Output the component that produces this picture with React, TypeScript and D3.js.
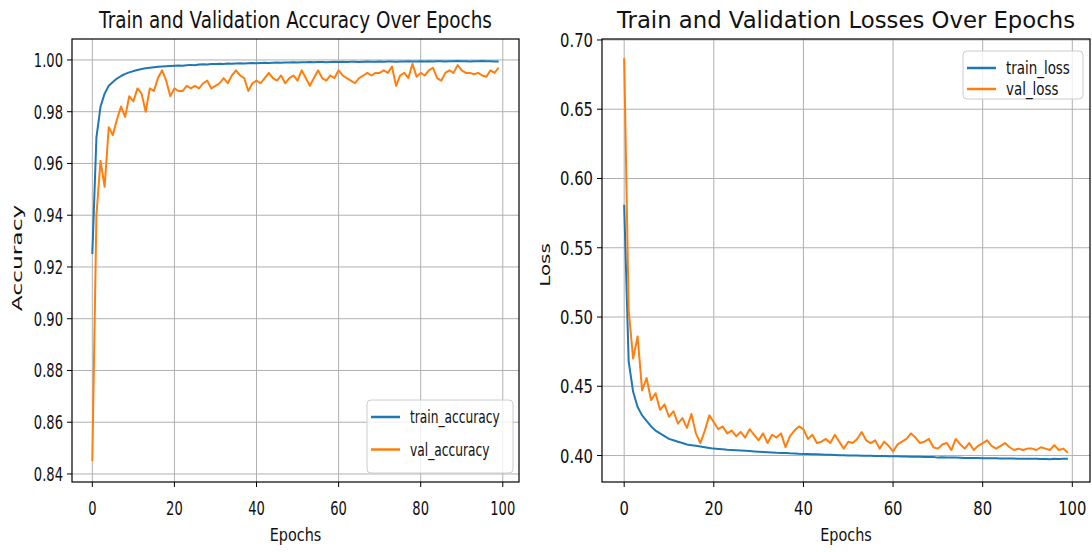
import * as d3 from "d3";

const epochs = d3.range(100);

const trainAccuracy = [
  0.925, 0.970, 0.982, 0.987, 0.990, 0.9915, 0.9928, 0.9938, 0.9946, 0.9952,
  0.9957, 0.9961, 0.9965, 0.9968, 0.9970, 0.9972, 0.9974, 0.9975, 0.9976, 0.9977,
  0.9978, 0.9979, 0.9978, 0.9980, 0.9981, 0.9980, 0.9982, 0.9983, 0.9982, 0.9984,
  0.9984, 0.9985, 0.9984, 0.9986, 0.9985, 0.9986, 0.9987, 0.9986, 0.9987, 0.9988,
  0.9987, 0.9988, 0.9989, 0.9988, 0.9989, 0.9990, 0.9989, 0.9990, 0.9990, 0.9991,
  0.9990, 0.9991, 0.9991, 0.9992, 0.9991, 0.9992, 0.9992, 0.9991, 0.9992, 0.9993,
  0.9992, 0.9993, 0.9992, 0.9993, 0.9993, 0.9992, 0.9993, 0.9994, 0.9993, 0.9993,
  0.9994, 0.9993, 0.9994, 0.9994, 0.9993, 0.9994, 0.9994, 0.9995, 0.9994, 0.9994,
  0.9995, 0.9994, 0.9995, 0.9994, 0.9995, 0.9995, 0.9994, 0.9995, 0.9995, 0.9996,
  0.9995, 0.9995, 0.9994, 0.9995, 0.9995, 0.9996, 0.9995, 0.9995, 0.9994, 0.9994,
];

const valAccuracy = [
  0.845, 0.940, 0.961, 0.951, 0.974, 0.971, 0.977, 0.982, 0.978, 0.986,
  0.984, 0.989, 0.987, 0.980, 0.989, 0.988, 0.993, 0.996, 0.992, 0.986,
  0.989, 0.988, 0.988, 0.990, 0.989, 0.990, 0.989, 0.991, 0.992, 0.989,
  0.990, 0.991, 0.993, 0.991, 0.994, 0.996, 0.994, 0.993, 0.988, 0.991,
  0.992, 0.991, 0.993, 0.995, 0.993, 0.992, 0.994, 0.991, 0.993, 0.994,
  0.992, 0.996, 0.993, 0.990, 0.993, 0.996, 0.993, 0.992, 0.994, 0.993,
  0.996, 0.994, 0.993, 0.992, 0.991, 0.993, 0.994, 0.995, 0.994, 0.995,
  0.995, 0.996, 0.995, 0.9975, 0.990, 0.994, 0.995, 0.993, 0.9985, 0.9935,
  0.995, 0.994, 0.996, 0.997, 0.993, 0.992, 0.995, 0.996, 0.995, 0.998,
  0.996, 0.995, 0.995, 0.9945, 0.995, 0.994, 0.9935, 0.996, 0.995, 0.997,
];

const trainLoss = [
  0.581, 0.468, 0.446, 0.435, 0.429, 0.425, 0.421, 0.418, 0.416, 0.414,
  0.412, 0.411, 0.410, 0.409, 0.408, 0.4075, 0.407, 0.4065, 0.406, 0.4055,
  0.405, 0.4048, 0.4045, 0.4042, 0.404, 0.4038, 0.4036, 0.4034, 0.4032, 0.403,
  0.4028, 0.4026, 0.4024, 0.4022, 0.402, 0.4019, 0.4018, 0.4016, 0.4015, 0.4013,
  0.4012, 0.4011, 0.401, 0.4009, 0.4008, 0.4006, 0.4005, 0.4004, 0.4003, 0.4002,
  0.4001, 0.4, 0.4, 0.3999, 0.3998, 0.3998, 0.3997, 0.3996, 0.3996, 0.3995,
  0.3994, 0.3994, 0.3993, 0.3993, 0.3992, 0.3991, 0.3991, 0.399, 0.3989, 0.3989,
  0.3985, 0.3987, 0.3986, 0.3985, 0.3985, 0.3984, 0.3983, 0.3983, 0.3982, 0.3982,
  0.3981, 0.3981, 0.398, 0.398, 0.3979, 0.3979, 0.3978, 0.3978, 0.3976, 0.3977,
  0.3977, 0.3976, 0.3976, 0.3975, 0.3975, 0.3974, 0.3976, 0.3975, 0.3976, 0.3977,
];

const valLoss = [
  0.687, 0.505, 0.470, 0.486, 0.447, 0.456, 0.440, 0.445, 0.433, 0.437,
  0.428, 0.432, 0.423, 0.427, 0.420, 0.430, 0.416, 0.409, 0.418, 0.429,
  0.424, 0.419, 0.421, 0.416, 0.418, 0.414, 0.417, 0.413, 0.419, 0.415,
  0.411, 0.416, 0.409, 0.415, 0.413, 0.416, 0.406, 0.414, 0.418, 0.421,
  0.419, 0.412, 0.415, 0.409, 0.410, 0.412, 0.409, 0.415, 0.410, 0.405,
  0.410, 0.409, 0.412, 0.417, 0.411, 0.409, 0.411, 0.405, 0.410, 0.407,
  0.403, 0.408, 0.410, 0.412, 0.416, 0.413, 0.409, 0.410, 0.412, 0.406,
  0.405, 0.408, 0.409, 0.404, 0.412, 0.408, 0.405, 0.409, 0.404, 0.407,
  0.409, 0.411, 0.407, 0.405, 0.407, 0.409, 0.406, 0.404, 0.405, 0.404,
  0.405, 0.405, 0.404, 0.406, 0.405, 0.404, 0.4075, 0.404, 0.405, 0.402,
];

const xTicks = [0, 20, 40, 60, 80, 100];
const accTicks = [0.84, 0.86, 0.88, 0.9, 0.92, 0.94, 0.96, 0.98, 1.0];
const lossTicks = [0.4, 0.45, 0.5, 0.55, 0.6, 0.65, 0.7];

const BLUE = "#1f77b4";
const ORANGE = "#ff7f0e";
const FONT = "DejaVu Sans";

// text squeezed horizontally like the reference image
function Label({ x, y, text, size, sx = 1, rotate = 0, anchor = "middle" }: any) {
  return (
    <g transform={`translate(${x},${y}) rotate(${rotate}) scale(${sx},1)`}>
      <text textAnchor={anchor} fontFamily={FONT} fontSize={size} fill="#111">
        {text}
      </text>
    </g>
  );
}

function Panel({ box, yDomain, yTicks, series, names, title, titleSx, yLabel, yLabelSx, sx, legend }: any) {
  const x = d3.scaleLinear().domain([-4.95, 103.95]).range([box.left, box.right]);
  const y = d3.scaleLinear().domain(yDomain).range([box.bottom, box.top]);
  const line = d3
    .line<number>()
    .x((_, i) => x(epochs[i]))
    .y((d) => y(d));
  const colors = [BLUE, ORANGE];
  const fmt = d3.format(".2f");
  const midX = (box.left + box.right) / 2;

  return (
    <g>
      {/* grid */}
      {xTicks.map((t) => (
        <line key={"gx" + t} x1={x(t)} x2={x(t)} y1={box.top} y2={box.bottom} stroke="#b0b0b0" strokeWidth={1} />
      ))}
      {yTicks.map((t: number) => (
        <line key={"gy" + t} x1={box.left} x2={box.right} y1={y(t)} y2={y(t)} stroke="#b0b0b0" strokeWidth={1} />
      ))}

      {series.map((s: number[], i: number) => (
        <path key={i} d={line(s) || ""} fill="none" stroke={colors[i]} strokeWidth={2} strokeLinejoin="round" />
      ))}

      <rect x={box.left} y={box.top} width={box.right - box.left} height={box.bottom - box.top} fill="none" stroke="#000" strokeWidth={1.2} />

      {xTicks.map((t) => (
        <g key={"tx" + t}>
          <line x1={x(t)} x2={x(t)} y1={box.bottom} y2={box.bottom + 5} stroke="#000" />
          <Label x={x(t)} y={515} text={String(t)} size={19} sx={sx} />
        </g>
      ))}
      {yTicks.map((t: number) => (
        <g key={"ty" + t}>
          <line x1={box.left - 5} x2={box.left} y1={y(t)} y2={y(t)} stroke="#000" />
          <Label x={box.left - 9} y={y(t) + 7} text={fmt(t)} size={19} sx={sx} anchor="end" />
        </g>
      ))}

      <Label x={midX} y={28} text={title} size={23} sx={titleSx} />
      <Label x={midX} y={541} text="Epochs" size={18} sx={0.8} />
      <Label x={yLabel.x} y={yLabel.y} text={yLabel.text} size={14} sx={yLabelSx} rotate={-90} />

      {/* legend */}
      <g>
        <rect x={legend.x} y={legend.y} width={legend.w} height={legend.h} rx={4} fill="#fff" fillOpacity={0.8} stroke="#cccccc" />
        {names.map((n: string, i: number) => {
          const ly = legend.y + 17 + i * legend.gap;
          return (
            <g key={n}>
              <line x1={legend.x + 4} x2={legend.x + 33} y1={ly} y2={ly} stroke={colors[i]} strokeWidth={2.5} />
              <Label x={legend.x + 43} y={ly + 6} text={n} size={17} sx={legend.sx} anchor="start" />
            </g>
          );
        })}
      </g>
    </g>
  );
}

export default function App() {
  return (
    <svg width={1092} height={552} style={{ position: "absolute", left: 0, top: 0, background: "#fff" }}>
      <Panel
        box={{ left: 72, right: 519, top: 39, bottom: 482 }}
        yDomain={[0.8369, 1.0081]}
        yTicks={accTicks}
        series={[trainAccuracy, valAccuracy]}
        names={["train_accuracy", "val_accuracy"]}
        title="Train and Validation Accuracy Over Epochs"
        titleSx={0.8}
        yLabel={{ x: 22, y: 258, text: "Accuracy" }}
        yLabelSx={1.67}
        sx={0.69}
        legend={{ x: 367, y: 400, w: 146, h: 73, gap: 32.5, sx: 0.72 }}
      />
      <Panel
        box={{ left: 602, right: 1090, top: 39, bottom: 482 }}
        yDomain={[0.3809, 0.7007]}
        yTicks={lossTicks}
        series={[trainLoss, valLoss]}
        names={["train_loss", "val_loss"]}
        title="Train and Validation Losses Over Epochs"
        titleSx={0.99}
        yLabel={{ x: 550, y: 265, text: "Loss" }}
        yLabelSx={1.42}
        sx={0.78}
        legend={{ x: 963, y: 51, w: 120, h: 48, gap: 21, sx: 0.79 }}
      />
    </svg>
  );
}
